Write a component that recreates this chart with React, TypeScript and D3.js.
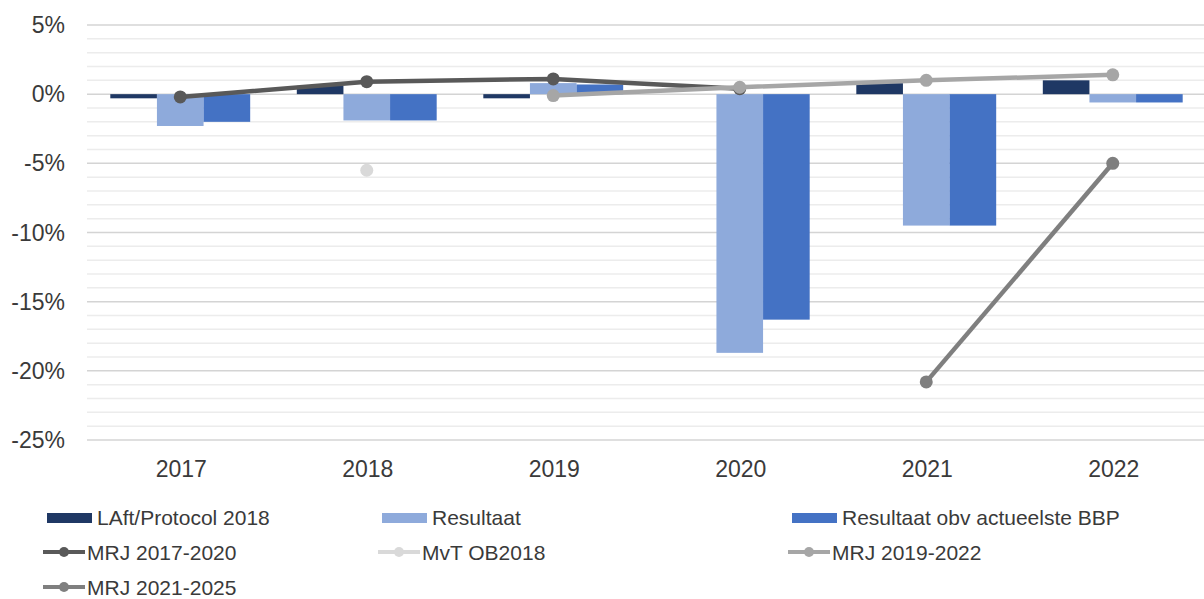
import { line, scaleBand, scaleLinear, select } from 'd3'
import { useEffect, useRef } from 'react'

const years = ['2017', '2018', '2019', '2020', '2021', '2022']

// bar series (% change)
const laftProtocol = [-0.3, 0.6, -0.3, 0, 0.8, 1.0]
const resultaat = [-2.3, -1.9, 0.8, -18.7, -9.5, -0.6]
const resultaatBbp = [-2.0, -1.9, 0.7, -16.3, -9.5, -0.6]

// line series (null = no point)
const mrj2017 = [-0.2, 0.9, 1.1, 0.4, null, null]
const mvtOb2018 = [null, -5.5, null, null, null, null]
const mrj2019 = [null, null, -0.1, 0.5, 1.0, 1.4]
const mrj2021 = [null, null, null, null, -20.8, -5.0]

const yTicks = [5, 0, -5, -10, -15, -20, -25]

const barSeries = [
  { name: 'LAft/Protocol 2018', values: laftProtocol, color: '#1f3864' },
  { name: 'Resultaat', values: resultaat, color: '#8eaadb' },
  { name: 'Resultaat obv actueelste BBP', values: resultaatBbp, color: '#4472c4' },
]

const lineSeries = [
  { name: 'MRJ 2017-2020', values: mrj2017, color: '#595959' },
  { name: 'MvT OB2018', values: mvtOb2018, color: '#d9d9d9' },
  { name: 'MRJ 2019-2022', values: mrj2019, color: '#a6a6a6' },
  { name: 'MRJ 2021-2025', values: mrj2021, color: '#7f7f7f' },
]

const FONT = 'Liberation Sans, Arial, sans-serif'

export default function App() {
  const ref = useRef<SVGSVGElement>(null)

  useEffect(() => {
    if (!ref.current) return
    const svg = select(ref.current)
    svg.selectAll('*').remove()

    const x = scaleBand<string>().domain(years).range([87, 1206]).paddingInner(0.25).paddingOuter(0.125)
    const y = scaleLinear().domain([-25, 5]).range([440, 25])
    const sub = scaleBand<number>().domain([0, 1, 2]).range([0, x.bandwidth()])
    const cx = (i: number) => (x(years[i]) ?? 0) + x.bandwidth() / 2

    // gridlines: minor every 1%, major every 5%
    const grid = svg.append('g')
    const minor: number[] = []
    for (let v = -25; v <= 5; v++) if (v % 5 !== 0) minor.push(v)
    grid
      .selectAll('line.minor')
      .data(minor)
      .join('line')
      .attr('x1', 87)
      .attr('x2', 1204)
      .attr('y1', (d) => y(d))
      .attr('y2', (d) => y(d))
      .attr('stroke', '#ececec')
      .attr('stroke-width', 1.5)
    grid
      .selectAll('line.major')
      .data(yTicks)
      .join('line')
      .attr('x1', 87)
      .attr('x2', 1204)
      .attr('y1', (d) => y(d))
      .attr('y2', (d) => y(d))
      .attr('stroke', '#d4d4d4')
      .attr('stroke-width', 1.5)

    // y labels
    svg
      .append('g')
      .selectAll('text')
      .data(yTicks)
      .join('text')
      .attr('x', 65)
      .attr('y', (d) => y(d) + 8)
      .attr('text-anchor', 'end')
      .attr('font-family', FONT)
      .attr('font-size', 23)
      .attr('fill', '#3a3a3a')
      .text((d) => `${d}%`)

    // x labels
    svg
      .append('g')
      .selectAll('text')
      .data(years)
      .join('text')
      .attr('x', (_, i) => cx(i) + 1)
      .attr('y', 477)
      .attr('text-anchor', 'middle')
      .attr('font-family', FONT)
      .attr('font-size', 23)
      .attr('fill', '#3a3a3a')
      .text((d) => d)

    // bars
    barSeries.forEach((s, si) => {
      svg
        .append('g')
        .selectAll('rect')
        .data(s.values)
        .join('rect')
        .attr('x', (_, i) => (x(years[i]) ?? 0) + (sub(si) ?? 0))
        .attr('width', sub.bandwidth())
        .attr('y', (d) => Math.min(y(d), y(0)))
        .attr('height', (d) => Math.abs(y(d) - y(0)))
        .attr('fill', s.color)
    })

    // lines
    lineSeries.forEach((s) => {
      const pts = s.values.map((v, i) => ({ v, i })).filter((p) => p.v !== null) as { v: number; i: number }[]
      const g = svg.append('g')
      g.append('path')
        .attr(
          'd',
          line<{ v: number; i: number }>()
            .x((p) => cx(p.i))
            .y((p) => y(p.v))(pts) ?? '',
        )
        .attr('fill', 'none')
        .attr('stroke', s.color)
        .attr('stroke-width', 4.5)
        .attr('stroke-linejoin', 'round')
      g.selectAll('circle')
        .data(pts)
        .join('circle')
        .attr('cx', (p) => cx(p.i))
        .attr('cy', (p) => y(p.v))
        .attr('r', 6.5)
        .attr('fill', s.color)
    })

    // legend
    const legend = svg.append('g').attr('font-family', FONT).attr('font-size', 21).attr('fill', '#3a3a3a')
    const cols = [45, 380, 790]
    barSeries.forEach((s, i) => {
      const lx = cols[i]
      legend.append('rect').attr('x', lx + 2).attr('y', 513).attr('width', 45).attr('height', 10).attr('fill', s.color)
      legend.append('text').attr('x', lx + 52).attr('y', 525).text(s.name)
    })
    lineSeries.forEach((s, i) => {
      const lx = cols[i % 3]
      const ly = i < 3 ? 552 : 587
      legend
        .append('line')
        .attr('x1', lx - 2)
        .attr('x2', lx + 40)
        .attr('y1', ly)
        .attr('y2', ly)
        .attr('stroke', s.color)
        .attr('stroke-width', 4)
      legend.append('circle').attr('cx', lx + 19).attr('cy', ly).attr('r', 5).attr('fill', s.color)
      legend
        .append('text')
        .attr('x', lx + 42)
        .attr('y', ly + 8)
        .text(s.name)
    })
  }, [])

  return (
    <svg
      ref={ref}
      width={1204}
      height={599}
      style={{ position: 'absolute', left: 0, top: 0, background: '#fff' }}
    />
  )
}
